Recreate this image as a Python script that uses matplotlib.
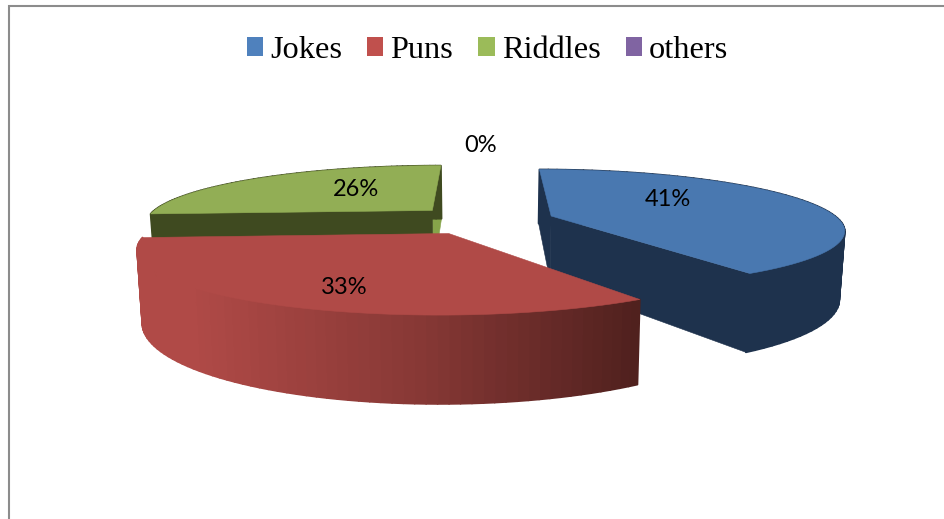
import numpy as np
import matplotlib
matplotlib.use("Agg")
import matplotlib.pyplot as plt
from matplotlib.patches import Polygon, Patch
from matplotlib.collections import PolyCollection
from matplotlib.colors import to_rgb

categories = ["Jokes", "Puns", "Riddles", "others"]
values = [41, 33, 26, 0]

legend_colors = ["#4F81BD", "#C0504D", "#9BBB59", "#8064A2"]
top_colors = ["#4978B0", "#B04A47", "#92AE55", "#8064A2"]
side_colors = ["#1E324D", "#B04A47", "#3F4A20", "#8064A2"]
end_face_colors = ["#1E324D", None, "#86A44A", None]
start_face_colors = ["#1E324D", None, "#3F4A20", None]
label_centres = [(668, 199), (344, 287), (356, 189), (481, 145)]

# projection of the pie plane onto the picture
X0, Y0, SX, SY, K = 483.0, 220.0, 288.0, 57.8, 0.21
DEPTH, BOTTOM_SCALE = 66.0, 0.985
EXPLODE = 0.25

# shading of the red wall, by horizontal position
RAMP_X = [190, 420, 640]
RAMP_COLORS = ["#B04A47", "#873835", "#4F201E"]


def project(x, y):
    w = 1 + K * y
    return X0 + SX * x / w, Y0 - SY * y / w


def project_bottom(x, y):
    px, py = project(x, y)
    return X0 + (px - X0) * BOTTOM_SCALE, py + DEPTH / (1 + K * y)


def face(ax, a, b, color, z):
    pts = [project(*a), project(*b), project_bottom(*b), project_bottom(*a)]
    ax.add_patch(Polygon(pts, closed=True, fc=color, ec=color, lw=0.4, zorder=z))


fig = plt.figure(figsize=(9.44, 5.19), dpi=100)
ax = fig.add_axes([0, 0, 1, 1])
ax.set_xlim(0, 944)
ax.set_ylim(519, 0)
ax.axis("off")

fractions = np.array(values, float) / sum(values)
ends = np.cumsum(fractions) * 2 * np.pi
starts = ends - fractions * 2 * np.pi
draw_order = [2, 0, 1]
ramp_rgb = np.array([to_rgb(c) for c in RAMP_COLORS])

for level, i in enumerate(draw_order):
    z = 2 + level
    mid = (starts[i] + ends[i]) / 2
    cx, cy = EXPLODE * np.sin(mid), EXPLODE * np.cos(mid)
    th = np.linspace(starts[i], ends[i], 70)
    xs, ys = cx + np.sin(th), cy + np.cos(th)

    if end_face_colors[i]:
        face(ax, (cx, cy), (xs[-1], ys[-1]), end_face_colors[i], z)
    if start_face_colors[i]:
        face(ax, (cx, cy), (xs[0], ys[0]), start_face_colors[i], z)

    # outer wall
    tx, ty = project(xs, ys)
    bx, by = project_bottom(xs, ys)
    quads = [[(tx[k], ty[k]), (tx[k + 1], ty[k + 1]), (bx[k + 1], by[k + 1]), (bx[k], by[k])]
             for k in range(len(th) - 1)]
    if categories[i] == "Puns":
        mids = (tx[:-1] + tx[1:]) / 2
        cols = np.column_stack([np.interp(mids, RAMP_X, ramp_rgb[:, c]) for c in range(3)])
    else:
        cols = [side_colors[i]] * len(quads)
    ax.add_collection(PolyCollection(quads, facecolors=cols, edgecolors=cols, linewidths=1.3, zorder=z))

    # top face
    pts = [project(cx, cy)] + list(zip(tx, ty))
    ax.add_patch(Polygon(pts, closed=True, fc=top_colors[i], ec=top_colors[i], lw=0.4, zorder=z + 0.5))

for v, (lx, ly) in zip(values, label_centres):
    ax.text(lx, ly, f"{v}%", ha="center", va="center", fontsize=17, family="Lato", color="black", zorder=10)

# chart frame (only top and left are in the crop)
ax.plot([8.5, 8.5, 944], [519, 6, 6], color="#8C8C8C", lw=1.5, solid_joinstyle="miter", zorder=1, clip_on=False)

handles = [Patch(fc=c, ec="none") for c in legend_colors]
fig.legend(handles, categories, loc="center", bbox_to_anchor=(487.5 / 944, 1 - 50.5 / 519), ncols=4, frameon=False,
           prop={"family": "Liberation Serif", "size": 23.3}, handlelength=0.5, handleheight=0.5,
           handletextpad=0.22, columnspacing=0.78, labelcolor="black")

fig.savefig("out.png", dpi=100)
